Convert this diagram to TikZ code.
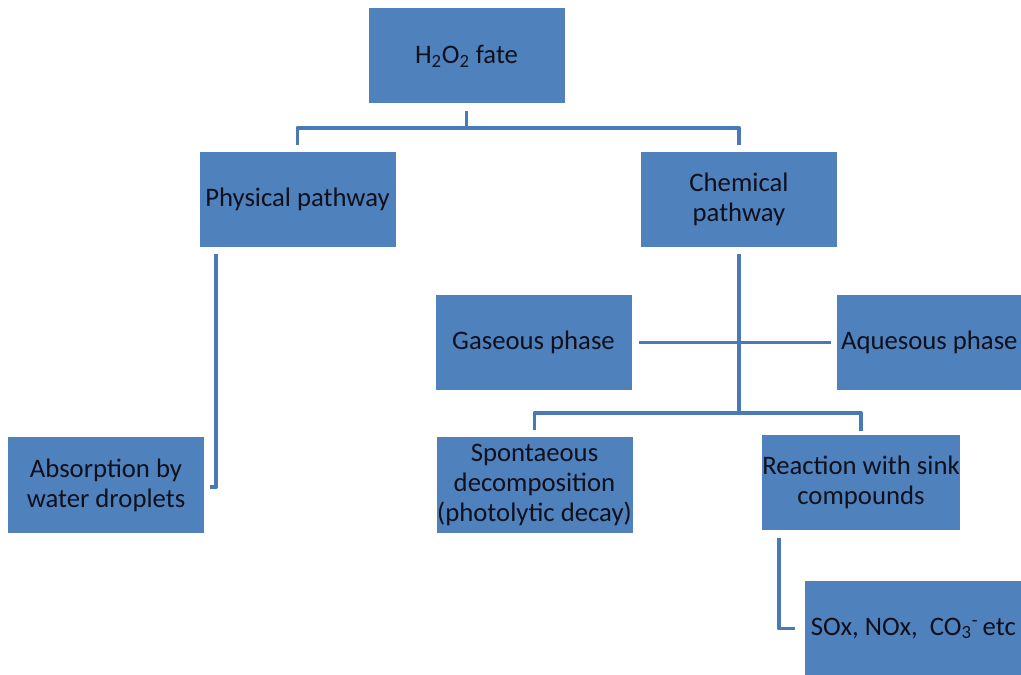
\documentclass[tikz,border=0pt]{standalone}
\usepackage{fontspec}
\setmainfont{Carlito}
\usepackage{xcolor}
\usepackage{tikz}
\usetikzlibrary{positioning,calc}

\definecolor{boxblue}{HTML}{4F81BD}
\definecolor{lineblue}{HTML}{4A7AB5}
\definecolor{inktext}{HTML}{10101C}

\begin{document}
\begin{tikzpicture}[x=0.025cm, y=-0.025cm,
    box/.style={fill=boxblue, text=inktext, align=center, inner sep=0pt,
        minimum width=196*0.025cm, minimum height=95*0.025cm,
        font=\fontsize{19}{21.5}\selectfont},
    link/.style={draw=lineblue, line width=2.8pt, line join=round}]
    \useasboundingbox (0,0) rectangle (1021,675);

    % boxes, placed at pixel positions of the sketch
    \node[box] (fate) at (466.5,56) {H\textsubscript{2}O\textsubscript{2} fate};
    \node[box] (phys) at (297.5,199.5) {Physical pathway};
    \node[box] (chem) at (739,199.5) {Chemical\\pathway};
    \node[box] (absorb) at (106,485) {Absorption by\\water droplets};
    \node[box] (gas) at (533.5,342.5) {Gaseous phase};
    \node[box, anchor=west, minimum width=184*0.025cm] (aq) at (837,342.5) {Aquesous phase};
    \node[box] (spont) at (534.5,485) {Spontaeous\\decomposition\\(photolytic decay)};
    \node[box] (react) at (861,482.5) {Reaction with sink\\compounds};
    \node[box, anchor=west, minimum width=216*0.025cm] (sox) at (805,628.5)
        {SOx, NOx,\ \ CO\textsubscript{3}\textsuperscript{-}\,etc};

    % tree connectors
    \draw[link] ($(fate.south)+(0,7)$) -- ++(0,17) coordinate (fj);
    \draw[link] ($(phys.north)+(0,-7)$) |- (fj) -| ($(chem.north)+(0,-7)$);
    \draw[link] ($(phys.south west)+(17,7)$) |- ($(absorb.east)+(6,2)$);
    \draw[link] ($(chem.south)+(0,7)$) -- ++(0,159) coordinate (cj);
    \draw[link] ($(gas.east)+(7,0)$) -- ($(aq.west)+(-6,0)$);
    \draw[link] ($(spont.north)+(0,-7)$) |- (cj) -| ($(react.north)+(0,-4)$);
    \draw[link] ($(react.south west)+(17,8)$) |- ($(sox.west)+(-10,0)$);
\end{tikzpicture}
\end{document}
